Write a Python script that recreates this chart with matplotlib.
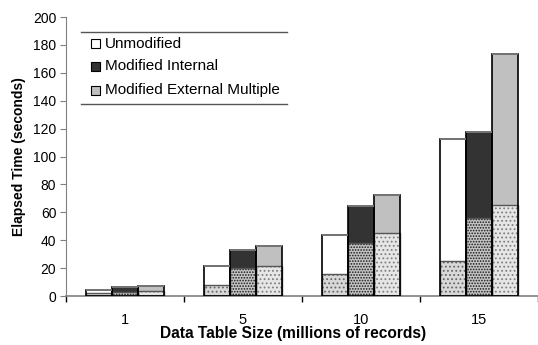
import matplotlib
matplotlib.use("Agg")
import matplotlib.pyplot as plt
from matplotlib.patches import Rectangle
from matplotlib.lines import Line2D
import numpy as np

plt.rcParams['font.family'] = ['Liberation Sans', 'DejaVu Sans']
plt.rcParams['hatch.linewidth'] = 0.8

sizes = ["1", "5", "10", "15"]
series = ["Unmodified", "Modified Internal", "Modified External Multiple"]
# lower (stippled) part and total height of each stacked bar
lower = {
    "Unmodified": [2.0, 8.0, 16.0, 25.0],
    "Modified Internal": [3.0, 20.0, 38.0, 56.0],
    "Modified External Multiple": [3.8, 21.7, 45.5, 65.5],
}
total = {
    "Unmodified": [4.5, 21.5, 43.5, 112.5],
    "Modified Internal": [6.2, 33.0, 64.5, 117.5],
    "Modified External Multiple": [7.2, 36.0, 72.5, 173.5],
}
yticks = [0, 20, 40, 60, 80, 100, 120, 140, 160, 180, 200]

top_colors = {"Unmodified": "#ffffff", "Modified Internal": "#333333",
              "Modified External Multiple": "#c0c0c0"}
low_style = {
    "Unmodified": dict(facecolor="#d8d8d8", hatch="....", edgecolor="#666666"),
    "Modified Internal": dict(facecolor="#c4c4c4", hatch="......", edgecolor="#1a1a1a"),
    "Modified External Multiple": dict(facecolor="#e6e6e6", hatch="....", edgecolor="#808080"),
}

fig = plt.figure(figsize=(5.38, 3.45), dpi=100)
ax = fig.add_axes([0.1227, 0.142, 0.8773, 0.8087])

x = np.arange(len(sizes))
w = 0.223
for i, s in enumerate(series):
    xs = x + (i - 1) * w
    lo = np.array(lower[s])
    tot = np.array(total[s])
    st = low_style[s]
    ax.bar(xs, lo, w, color=st["facecolor"], hatch=st["hatch"],
           edgecolor=st["edgecolor"], linewidth=0, zorder=2)
    ax.bar(xs, tot - lo, w, bottom=lo, color=top_colors[s], edgecolor="none",
           linewidth=0, zorder=2)
    # segment divider and bar outline
    ax.bar(xs, lo, w, fill=False, edgecolor="#555555", linewidth=1.0, zorder=3)
    ax.bar(xs, tot, w, fill=False, edgecolor="black", linewidth=1.2, zorder=4)
    ax.hlines(tot, xs - w / 2, xs + w / 2, color="#777777", linewidth=1.4, zorder=5)

ax.set_xlim(-0.5, 3.45)
ax.set_ylim(0, 200)
ax.set_yticks(yticks)
ax.set_xticks(x)
ax.set_xticklabels(sizes)
ax.set_xticks(np.arange(-0.5, 3.6, 1.0), minor=True)
ax.tick_params(axis="x", which="major", length=0, pad=12, labelsize=10.5)
ax.tick_params(axis="x", which="minor", length=4, color="black", width=1)
ax.tick_params(axis="y", length=4, color="#808080", labelsize=10, pad=3)
for side in ("top", "right"):
    ax.spines[side].set_visible(False)
ax.spines["left"].set_color("#808080")
ax.spines["bottom"].set_color("#808080")
ax.spines["bottom"].set_linewidth(1.2)

ax.set_xlabel("Data Table Size (millions of records)", fontsize=11.2,
              fontweight="bold")
ax.xaxis.set_label_coords(0.48, -0.108)
ax.set_ylabel("Elapsed Time (seconds)", fontsize=10, fontweight="bold",
              labelpad=5)

# legend block with rules above and below
W, H = 538, 345
def fx(px):
    return px / W
def fy(py):
    return 1 - py / H

for py in (32, 104):
    fig.add_artist(Line2D([fx(81), fx(287)], [fy(py), fy(py)],
                          color="#555555", linewidth=1.0))
for s, py in zip(series, (43.5, 66.5, 90)):
    fig.add_artist(Rectangle((fx(91), fy(py + 4.5)), fx(9), 9 / H,
                             facecolor=top_colors[s], edgecolor="black",
                             linewidth=0.8))
    fig.text(fx(105), fy(py), s, fontsize=11, va="center", ha="left")

fig.savefig("out.png", dpi=100)
